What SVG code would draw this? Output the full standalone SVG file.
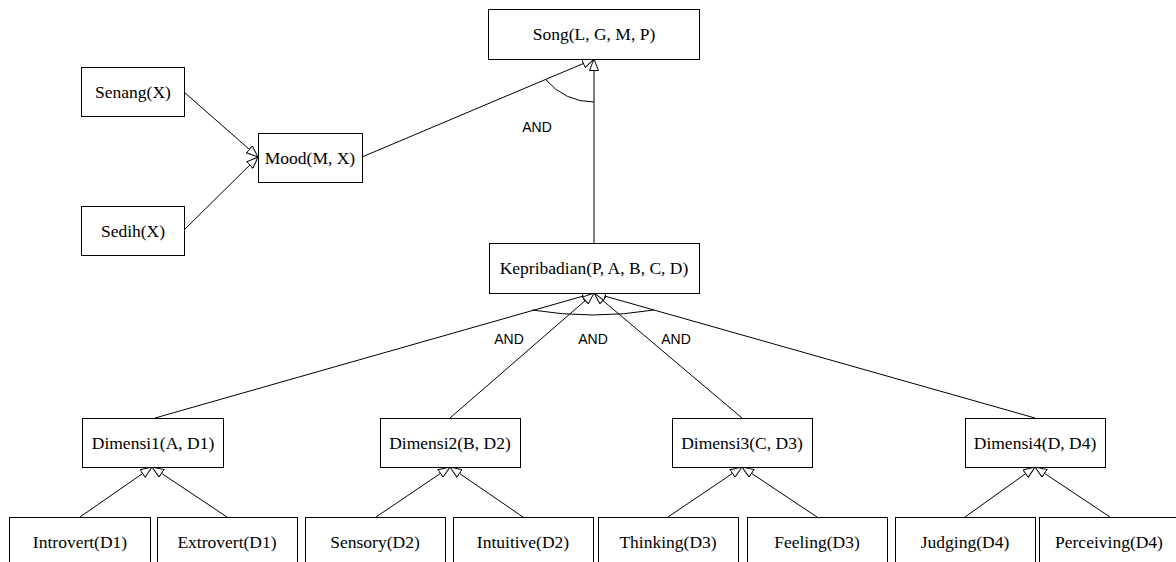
<svg xmlns="http://www.w3.org/2000/svg" width="1176" height="562" viewBox="0 0 1176 562">
<style>
.box{fill:#fff;stroke:#000;stroke-width:1}
.t{font-family:"Liberation Serif","Times New Roman",serif;font-size:17.5px;fill:#000;text-anchor:middle}
.lbl{font-family:"Liberation Sans",Arial,sans-serif;font-size:14px;fill:#000;text-anchor:middle}
.c{fill:none;stroke:#000;stroke-width:1}
.arr{marker-end:url(#tri)}
</style>
<defs>
<marker id="tri" viewBox="0 0 12 10" refX="12" refY="5" markerWidth="12" markerHeight="10" markerUnits="userSpaceOnUse" orient="auto">
<path d="M0.5,0.5 L12,5 L0.5,9.5 z" fill="#fff" stroke="#000" stroke-width="1"/>
</marker>
</defs>
<rect width="1176" height="562" fill="#fff"/>
<g id="connectors">
<line class="c arr" x1="184" y1="92" x2="258" y2="157"/>
<line class="c arr" x1="184" y1="230" x2="258" y2="157"/>
<line class="c arr" x1="362" y1="157" x2="594" y2="59"/>
<line class="c arr" x1="594" y1="243" x2="594" y2="59"/>
<path class="c" d="M545,79 Q565,102 594,102"/>
<line class="c arr" x1="155" y1="418" x2="594" y2="293"/>
<line class="c arr" x1="450" y1="418" x2="594" y2="293"/>
<line class="c arr" x1="742" y1="418" x2="594" y2="293"/>
<line class="c arr" x1="1035" y1="418" x2="594" y2="293"/>
<path class="c" d="M532,310 Q593,320 654,310"/>
<line class="c arr" x1="80" y1="517" x2="152" y2="467"/>
<line class="c arr" x1="227" y1="517" x2="152" y2="467"/>
<line class="c arr" x1="376" y1="517" x2="450" y2="467"/>
<line class="c arr" x1="523" y1="517" x2="450" y2="467"/>
<line class="c arr" x1="668" y1="517" x2="742" y2="467"/>
<line class="c arr" x1="817" y1="517" x2="742" y2="467"/>
<line class="c arr" x1="965" y1="517" x2="1035" y2="467"/>
<line class="c arr" x1="1110" y1="517" x2="1035" y2="467"/>
<text class="lbl" x="537" y="132">AND</text>
<text class="lbl" x="509" y="344">AND</text>
<text class="lbl" x="593" y="344">AND</text>
<text class="lbl" x="676" y="344">AND</text>
</g>
<g id="song"><rect class="box" x="488.5" y="9.5" width="211" height="50"/><text class="t" x="594" y="40">Song(L, G, M, P)</text></g>
<g id="senang"><rect class="box" x="81.5" y="67.5" width="103" height="49"/><text class="t" x="133" y="98">Senang(X)</text></g>
<g id="mood"><rect class="box" x="258.5" y="133.5" width="104" height="49"/><text class="t" x="310" y="164">Mood(M, X)</text></g>
<g id="sedih"><rect class="box" x="81.5" y="206.5" width="103" height="49"/><text class="t" x="133" y="237">Sedih(X)</text></g>
<g id="kepribadian"><rect class="box" x="489.5" y="243.5" width="210" height="50"/><text class="t" x="594" y="274">Kepribadian(P, A, B, C, D)</text></g>
<g id="dimensi1"><rect class="box" x="82.5" y="418.5" width="141" height="49"/><text class="t" x="153" y="449">Dimensi1(A, D1)</text></g>
<g id="dimensi2"><rect class="box" x="380.5" y="418.5" width="140" height="49"/><text class="t" x="450" y="449">Dimensi2(B, D2)</text></g>
<g id="dimensi3"><rect class="box" x="672.5" y="418.5" width="140" height="49"/><text class="t" x="742" y="449">Dimensi3(C, D3)</text></g>
<g id="dimensi4"><rect class="box" x="965.5" y="418.5" width="140" height="49"/><text class="t" x="1035" y="449">Dimensi4(D, D4)</text></g>
<g id="introvert"><rect class="box" x="9.5" y="517.5" width="141" height="50"/><text class="t" x="80" y="548">Introvert(D1)</text></g>
<g id="extrovert"><rect class="box" x="157.5" y="517.5" width="140" height="50"/><text class="t" x="227" y="548">Extrovert(D1)</text></g>
<g id="sensory"><rect class="box" x="305.5" y="517.5" width="140" height="50"/><text class="t" x="375" y="548">Sensory(D2)</text></g>
<g id="intuitive"><rect class="box" x="453.5" y="517.5" width="140" height="50"/><text class="t" x="523" y="548">Intuitive(D2)</text></g>
<g id="thinking"><rect class="box" x="598.5" y="517.5" width="140" height="50"/><text class="t" x="668" y="548">Thinking(D3)</text></g>
<g id="feeling"><rect class="box" x="747.5" y="517.5" width="140" height="50"/><text class="t" x="817" y="548">Feeling(D3)</text></g>
<g id="judging"><rect class="box" x="895.5" y="517.5" width="140" height="50"/><text class="t" x="965" y="548">Judging(D4)</text></g>
<g id="perceiving"><rect class="box" x="1039.5" y="517.5" width="140" height="50"/><text class="t" x="1109" y="548">Perceiving(D4)</text></g>
</svg>
